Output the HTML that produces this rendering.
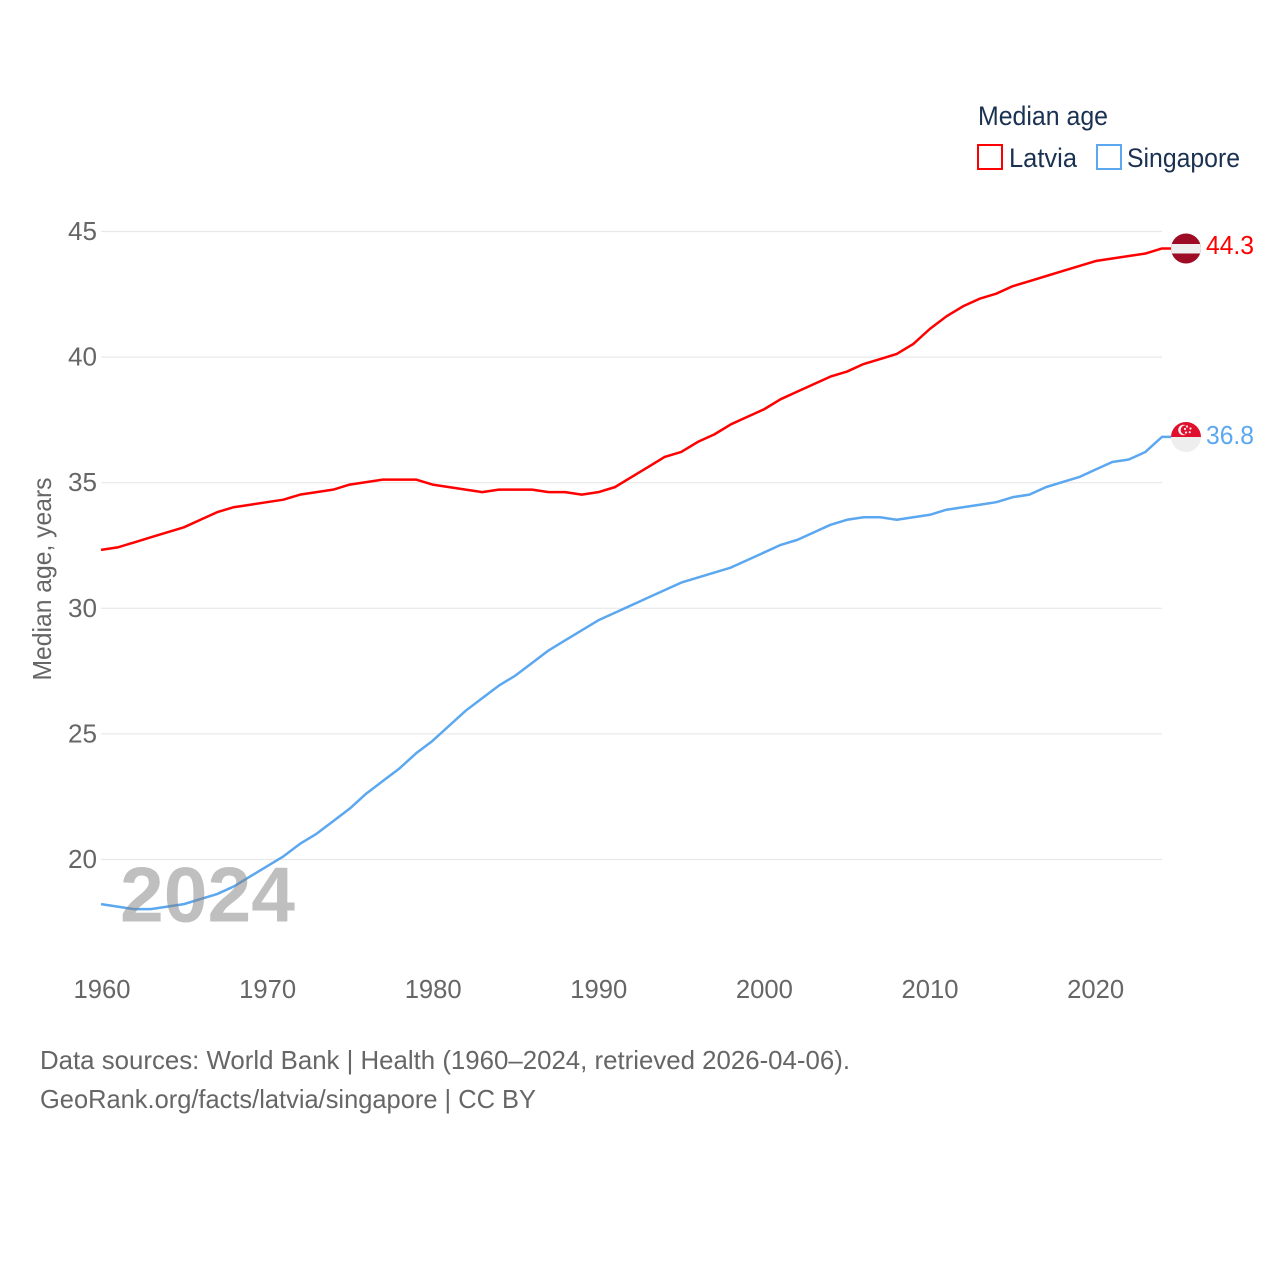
<!DOCTYPE html>
<html lang="en">
<head>
<meta charset="utf-8">
<title>Median age: Latvia and Singapore</title>
<style>
html,body{margin:0;padding:0;background:#fff;width:1280px;height:1280px;overflow:hidden}
svg{display:block}
text{font-family:"Liberation Sans",sans-serif}
</style>
</head>
<body>
<svg id="chart" width="1280" height="1280" viewBox="0 0 1280 1280" xmlns="http://www.w3.org/2000/svg">
  <rect width="1280" height="1280" fill="#fff"/>
  <g id="grid"></g>
  <g id="yticks"></g>
  <g id="xticks"></g>
  <text transform="translate(51,579) rotate(-90)" text-anchor="middle" font-size="26" fill="#666" textLength="203" lengthAdjust="spacingAndGlyphs">Median age, years</text>
  <g id="series"></g>
  <text x="120" y="921.5" font-size="78" font-weight="700" fill="#808080" fill-opacity="0.5" textLength="175" lengthAdjust="spacingAndGlyphs">2024</text>

  <g>
    <clipPath id="clipLv"><circle cx="1186" cy="248.5" r="15"/></clipPath>
    <g clip-path="url(#clipLv)">
      <rect x="1171" y="233" width="30" height="31" fill="#9e0b25"/>
      <rect x="1171" y="244" width="30" height="9.5" fill="#efefef"/>
    </g>
  </g>
  <g>
    <clipPath id="clipSg"><circle cx="1186" cy="437" r="15"/></clipPath>
    <g clip-path="url(#clipSg)">
      <rect x="1171" y="422" width="30" height="15" fill="#df0f2d"/>
      <rect x="1171" y="437" width="30" height="15" fill="#eeeeee"/>
      <circle cx="1183.5" cy="430" r="5.3" fill="#f8f0f0"/>
      <circle cx="1185.5" cy="430" r="4.8" fill="#df0f2d"/>
      <circle cx="1187" cy="426.5" r="1.1" fill="#f8f0f0"/>
      <circle cx="1190.5" cy="428.5" r="1.1" fill="#f8f0f0"/>
      <circle cx="1189.7" cy="432.2" r="1.1" fill="#f8f0f0"/>
      <circle cx="1186" cy="432.5" r="1.1" fill="#f8f0f0"/>
      <circle cx="1185" cy="429" r="1.1" fill="#f8f0f0"/>
    </g>
  </g>
  <text x="1206" y="254" font-size="26" fill="#ff0000" textLength="48" lengthAdjust="spacingAndGlyphs">44.3</text>
  <text x="1206" y="444" font-size="26" fill="#5ba7f0" textLength="48" lengthAdjust="spacingAndGlyphs">36.8</text>

  <g>
    <text x="978" y="125" font-size="27" fill="#1a3152" textLength="130" lengthAdjust="spacingAndGlyphs">Median age</text>
    <rect x="978" y="145" width="24" height="24" fill="#fff" stroke="#ff0000" stroke-width="2"/>
    <text x="1009" y="167" font-size="27" fill="#1a3152" textLength="68" lengthAdjust="spacingAndGlyphs">Latvia</text>
    <rect x="1097" y="145" width="24" height="24" fill="#fff" stroke="#5ba7f0" stroke-width="2"/>
    <text x="1127" y="167" font-size="27" fill="#1a3152" textLength="113" lengthAdjust="spacingAndGlyphs">Singapore</text>
  </g>

  <text x="40" y="1069" font-size="26" fill="#666" textLength="810" lengthAdjust="spacingAndGlyphs">Data sources: World Bank | Health (1960–2024, retrieved 2026-04-06).</text>
  <text x="40" y="1108" font-size="26" fill="#666" textLength="496" lengthAdjust="spacingAndGlyphs">GeoRank.org/facts/latvia/singapore | CC BY</text>
</svg>
<script>
const startYear = 1960;
const yTickValues = [20, 25, 30, 35, 40, 45];
const xTickValues = [1960, 1970, 1980, 1990, 2000, 2010, 2020];
const latviaValues = [32.3,32.4,32.6,32.8,33.0,33.2,33.5,33.8,34.0,34.1,34.2,34.3,34.5,34.6,34.7,34.9,35.0,35.1,35.1,35.1,34.9,34.8,34.7,34.6,34.7,34.7,34.7,34.6,34.6,34.5,34.6,34.8,35.2,35.6,36.0,36.2,36.6,36.9,37.3,37.6,37.9,38.3,38.6,38.9,39.2,39.4,39.7,39.9,40.1,40.5,41.1,41.6,42.0,42.3,42.5,42.8,43.0,43.2,43.4,43.6,43.8,43.9,44.0,44.1,44.3];
const singaporeValues = [18.2,18.1,18.0,18.0,18.1,18.2,18.4,18.6,18.9,19.3,19.7,20.1,20.6,21.0,21.5,22.0,22.6,23.1,23.6,24.2,24.7,25.3,25.9,26.4,26.9,27.3,27.8,28.3,28.7,29.1,29.5,29.8,30.1,30.4,30.7,31.0,31.2,31.4,31.6,31.9,32.2,32.5,32.7,33.0,33.3,33.5,33.6,33.6,33.5,33.6,33.7,33.9,34.0,34.1,34.2,34.4,34.5,34.8,35.0,35.2,35.5,35.8,35.9,36.2,36.8];

const NS = 'http://www.w3.org/2000/svg';
function xScale(year) { return 101 + (year - 1960) * (1162 - 101) / 64; }
function yScale(v) { return 859.5 - (v - 20) * (859.5 - 231.5) / 25; }
function xLabelCenter(year) { return 102 + (year - 1960) * 16.56; }
const lineOffsetY = -0.6;

const grid = document.getElementById('grid');
const yticks = document.getElementById('yticks');
const xticks = document.getElementById('xticks');
const series = document.getElementById('series');

yTickValues.forEach(function (v) {
  const line = document.createElementNS(NS, 'line');
  
  
  line.setAttribute('x1', 101);
  line.setAttribute('x2', 1162);
  line.setAttribute('y1', yScale(v));
  line.setAttribute('y2', yScale(v));
  line.setAttribute('stroke', '#e8e8e8');
  line.setAttribute('stroke-width', 1.2);
  grid.appendChild(line);

  const t = document.createElementNS(NS, 'text');
  
  
  t.setAttribute('x', 68);
  t.setAttribute('y', yScale(v) + 8.5);
  t.setAttribute('font-size', 26);
  t.setAttribute('fill', '#666');
  t.setAttribute('textLength', 29);
  t.setAttribute('lengthAdjust', 'spacingAndGlyphs');
  t.textContent = v;
  yticks.appendChild(t);
});

xTickValues.forEach(function (y) {
  const t = document.createElementNS(NS, 'text');
  
  
  t.setAttribute('x', xLabelCenter(y) - 28.5);
  t.setAttribute('y', 998);
  t.setAttribute('font-size', 26);
  t.setAttribute('fill', '#666');
  t.setAttribute('textLength', 57);
  t.setAttribute('lengthAdjust', 'spacingAndGlyphs');
  t.textContent = y;
  xticks.appendChild(t);
});

function linePoints(values) {
  const pts = values.map(function (v, i) {
    return xScale(startYear + i).toFixed(2) + ',' + (yScale(v) + lineOffsetY).toFixed(2);
  });
  pts.push('1186,' + (yScale(values[values.length - 1]) + lineOffsetY).toFixed(2));
  return pts.join(' ');
}

const latviaLine = document.createElementNS(NS, 'polyline');


latviaLine.setAttribute('points', linePoints(latviaValues));
latviaLine.setAttribute('fill', 'none');
latviaLine.setAttribute('stroke', '#ff0000');
latviaLine.setAttribute('stroke-width', 2.5);
latviaLine.setAttribute('stroke-linejoin', 'round');
series.appendChild(latviaLine);

const singaporeLine = document.createElementNS(NS, 'polyline');


singaporeLine.setAttribute('points', linePoints(singaporeValues));
singaporeLine.setAttribute('fill', 'none');
singaporeLine.setAttribute('stroke', '#5ba7f0');
singaporeLine.setAttribute('stroke-width', 2.5);
singaporeLine.setAttribute('stroke-linejoin', 'round');
series.appendChild(singaporeLine);
</script>
</body>
</html>
